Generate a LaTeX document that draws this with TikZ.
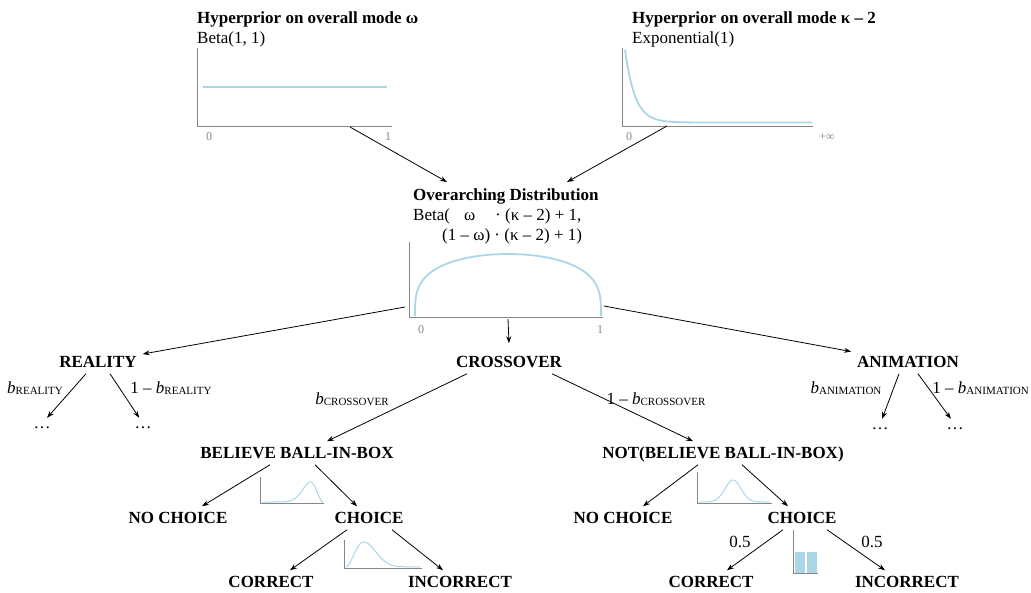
\documentclass[tikz,border=0pt]{standalone}
\usepackage{fontspec}
\setmainfont{Liberation Serif}
\usetikzlibrary{arrows.meta}

\definecolor{distblue}{RGB}{170,214,230}
\definecolor{axisgray}{RGB}{135,135,135}
\newcommand{\lowcap}[1]{\raisebox{-1.5pt}{\fontsize{11}{11}\selectfont #1}}

\begin{document}
\begin{tikzpicture}[x=1pt,y=-1pt,
  head/.style={font=\fontsize{17}{20}\selectfont\bfseries,inner sep=0pt},
  plain/.style={font=\fontsize{17}{20}\selectfont,inner sep=1pt},
  state/.style={font=\fontsize{17}{20}\selectfont\bfseries,inner sep=2pt,outer sep=4pt,text height=11.5pt,text depth=0pt},
  more/.style={font=\fontsize{17}{20}\selectfont,inner sep=1pt,text height=9pt,text depth=0pt},
  tick/.style={font=\fontsize{12}{12}\selectfont,text=axisgray,inner sep=0pt},
  axis/.style={axisgray,line width=0.8pt},
  dens/.style={distblue,line width=1.8pt},
  smalldens/.style={distblue,line width=1pt},
  branch/.style={-{Stealth[length=7pt,width=5pt]},line width=0.8pt}]

\useasboundingbox (0,0) rectangle (1031,592);

% hyperpriors
\node[head,anchor=base west] (homega) at (197,23) {Hyperprior on overall mode ω};
\node[plain,inner sep=0pt,anchor=base west] (bomega) at (197,43) {Beta(1, 1)};
\draw[axis] (197,48) -- (197,126) -- (392,126);
\draw[dens] (203,87) -- (387,87);
\node[tick] (w0) at (209,137) {0};
\node[tick] (w1) at (388,137) {1};

\node[head,anchor=base west] (hkappa) at (632,23) {Hyperprior on overall mode κ – 2};
\node[plain,inner sep=0pt,anchor=base west] (ekappa) at (632,43) {Exponential(1)};
\draw[axis] (622,48) -- (622,126) -- (813,126);
\draw[dens] plot[domain=625:700,samples=60] (\x,{122.5-72.5*exp(-(\x-625)/10)}) -- (812,122.5);
\node[tick] (k0) at (629,137) {0};
\node[tick] (kinf) at (827,137) {+∞};

% overarching distribution
\node[head,anchor=base west] (over) at (413,200) {Overarching Distribution};
\node[plain,inner sep=0pt,anchor=base west] (overa) at (413,220) {Beta(\hspace{14pt}ω\hspace{20pt}· (κ – 2) + 1,};
\node[plain,inner sep=0pt,anchor=base west] (overb) at (442,240) {(1 – ω) · (κ – 2) + 1)};
\draw[axis] (409,242) -- (409,317) -- (603,317);
\draw[dens] (415,316) -- plot[domain=1:179,samples=70] ({508-93*cos(\x)},{316-62*pow(sin(\x),0.6)}) -- (601,316);
\node[tick] (o0) at (421,330) {0};
\node[tick] (o1) at (600,330) {1};

\coordinate (wfoot) at (350,127);
\coordinate (kfoot) at (667,126);
\coordinate (oleft) at (405,307);
\coordinate (omid) at (508,319);
\coordinate (oright) at (604,306);

\draw[branch] (wfoot) -- ([shift={(34,-6)}]over.north west);
\draw[branch] (kfoot) -- ([shift={(154,-6)}]over.north west);

% first level
\node[state] (real) at (98,362) {REALITY};
\node[state] (cross) at (509,362) {CROSSOVER};
\node[state] (anim) at (908,362) {ANIMATION};

\draw[branch] (oleft) -- (real);
\draw[branch] (omid) -- ([yshift=7pt]cross.north);
\draw[branch] (oright) -- (anim);

\node[more,anchor=base] (rd1) at (42,428) {…};
\node[more,anchor=base] (rd2) at (143,428) {…};
\node[more,anchor=base] (ad1) at (880,429) {…};
\node[more,anchor=base] (ad2) at (955,429) {…};
\draw[branch] ([xshift=-12pt]real.south) -- (rd1);
\draw[branch] ([xshift=12pt]real.south) -- (rd2);
\draw[branch] ([xshift=-9pt]anim.south) -- (ad1);
\draw[branch] ([xshift=10pt]anim.south) -- (ad2);

\node[plain] (breal) at (35,388) {\textit{b}\lowcap{REALITY}};
\node[plain] (nbreal) at (171,388) {1 – \textit{b}\lowcap{REALITY}};
\node[plain] (banim) at (846,388) {\textit{b}\lowcap{ANIMATION}};
\node[plain,anchor=east] (nbanim) at (1030,388) {1 – \textit{b}\lowcap{ANIMATION}};
\node[plain] (bcross) at (352,399) {\textit{b}\lowcap{CROSSOVER}};
\node[plain] (nbcross) at (656,399) {1 – \textit{b}\lowcap{CROSSOVER}};

% crossover subtree
\node[state] (bel) at (297,453) {BELIEVE BALL-IN-BOX};
\node[state] (nbel) at (723,453) {NOT(BELIEVE BALL-IN-BOX)};
\draw[branch] ([xshift=-42pt]cross.south) -- ([xshift=30pt]bel.north);
\draw[branch] ([xshift=43pt]cross.south) -- ([xshift=-30pt]nbel.north);

\node[state] (nc1) at (178,518) {NO CHOICE};
\node[state] (ch1) at (369,518) {CHOICE};
\node[state] (co1) at (271,582) {CORRECT};
\node[state] (in1) at (460,582) {INCORRECT};
\draw[branch] ([xshift=-27pt]bel.south) -- ([xshift=24pt]nc1.north);
\draw[branch] ([xshift=18pt]bel.south) -- ([xshift=-12pt]ch1.north);
\draw[branch] ([xshift=-22pt]ch1.south) -- ([xshift=19pt]co1.north);
\draw[branch] ([xshift=23pt]ch1.south) -- ([xshift=-17pt]in1.north);

\node[state] (nc2) at (623,518) {NO CHOICE};
\node[state] (ch2) at (802,518) {CHOICE};
\node[state] (co2) at (711,582) {CORRECT};
\node[state] (in2) at (907,582) {INCORRECT};
\draw[branch] ([xshift=-25pt]nbel.south) -- ([xshift=20pt]nc2.north);
\draw[branch] ([xshift=19pt]nbel.south) -- ([xshift=-14pt]ch2.north);
\draw[branch] ([xshift=-19pt]ch2.south) -- ([xshift=16pt]co2.north);
\draw[branch] ([xshift=25pt]ch2.south) -- ([xshift=-22pt]in2.north);

\node[plain] (half1) at (740,542) {0.5};
\node[plain] (half2) at (872,542) {0.5};

% small densities
\draw[axis] (260,477) -- (260,503) -- (324,503);
\draw[smalldens] (262,502) -- plot[domain=0.3:0.99,samples=60] ({260+64*\x},{502-20*pow(\x/0.786,11)*pow((1-\x)/0.214,3)});

\draw[axis] (344,540) -- (344,568) -- (422,568);
\draw[smalldens] plot[domain=0.005:0.7,samples=60] ({345+77*\x},{567-25*pow(\x/0.25,2.5)*pow((1-\x)/0.75,7.5)}) -- (420,567);

\draw[axis] (697,472) -- (697,503) -- (772,503);
\draw[smalldens] plot[domain=699:770,samples=60] (\x,{502-22*exp(-(\x-733)^2/128)});

\fill[distblue] (794.5,552) rectangle (805,573);
\fill[distblue] (807,552) rectangle (817,573);
\draw[axis] (793,530) -- (793,573) -- (818,573);
\end{tikzpicture}
\end{document}
